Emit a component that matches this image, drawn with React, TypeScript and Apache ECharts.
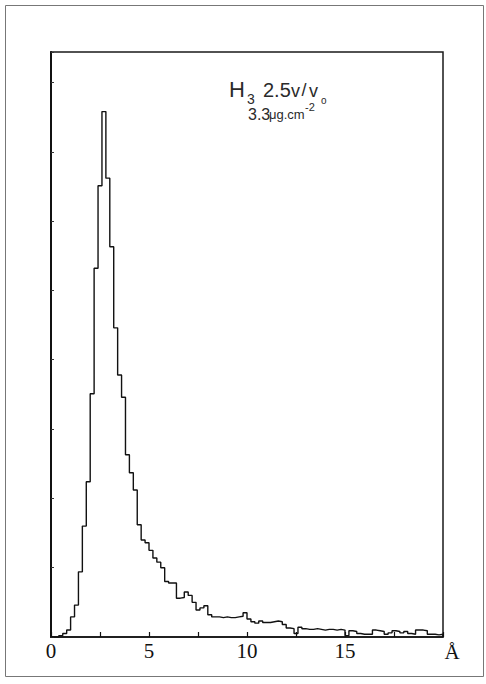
import React, { useEffect, useRef } from "react";
import * as echarts from "echarts";

// Histogram: bin width (Å) and counts per bin
const binWidth = 0.2;
const counts = [
  0, 0, 2, 5, 10, 29, 46, 94, 160, 224,
  351, 532, 651, 758, 662, 563, 446, 378, 346, 263,
  237, 212, 162, 140, 136, 125, 114, 108, 100, 80,
  78, 78, 56, 57, 65, 60, 50, 39, 42, 45,
  32, 29, 29, 28, 29, 28, 28, 29, 30, 35,
  26, 22, 20, 23, 21, 21, 22, 23, 22, 18,
  13, 12, 5, 14, 12, 11, 11, 12, 11, 10,
  11, 11, 10, 11, 10, 2, 9, 8, 5, 4,
  4, 4, 10, 9, 8, 4, 6, 9, 8, 6,
  8, 5, 4, 10, 10, 9, 4, 4, 3, 4,
];
const xLabels = [0, 5, 10, 15];
const xMin = 0;
const xMax = 20;
const xTickStep = 2.5;
const yMax = 844;
const yTickStep = 100;

export default function App() {
  const ref = useRef<HTMLDivElement>(null);
  useEffect(() => {
    if (!ref.current) return;
    const chart = echarts.init(ref.current, null, { renderer: "svg" });
    const data: number[][] = counts.map((c, i) => [+(i * binWidth).toFixed(2), c]);
    data.push([xMax, 0]);
    const sans = "Liberation Sans, Arial, sans-serif";
    const serif = "Liberation Serif, DejaVu Serif, serif";
    const txt = "#2a2a2a";
    const t = (text: string, x: number, y: number, size: number) => ({
      type: "text",
      x,
      y,
      silent: true,
      style: { text, fontSize: size, fontFamily: sans, fill: txt, verticalAlign: "middle" },
    });
    chart.setOption({
      animation: false,
      backgroundColor: "#ffffff",
      grid: {
        left: 51,
        top: 52,
        right: 43,
        bottom: 47,
        show: true,
        borderColor: "#1a1a1a",
        borderWidth: 1.5,
      },
      xAxis: {
        type: "value",
        min: xMin,
        max: xMax,
        interval: xTickStep,
        axisLine: { show: true, lineStyle: { color: "#111", width: 1.5 } },
        axisTick: { show: true, inside: true, length: 5, lineStyle: { color: "#111", width: 1.2 } },
        splitLine: { show: false },
        axisLabel: {
          margin: 3,
          color: "#111",
          fontFamily: serif,
          fontSize: 21,
          formatter: (v: number) => (xLabels.includes(v) ? String(v) : ""),
        },
      },
      yAxis: {
        type: "value",
        min: 0,
        max: yMax,
        interval: yTickStep,
        axisLine: { show: true, lineStyle: { color: "#111", width: 2 } },
        axisTick: { show: true, inside: true, length: 3, lineStyle: { color: "#333", width: 1 } },
        splitLine: { show: false },
        axisLabel: { show: false },
      },
      series: [
        {
          type: "line",
          step: "end",
          data,
          symbol: "none",
          lineStyle: { color: "#111", width: 1.4 },
        },
      ],
      graphic: [
        {
          type: "rect",
          shape: { x: 5.5, y: 5.5, width: 478, height: 671 },
          style: { fill: "none", stroke: "#777", lineWidth: 1 },
          silent: true,
        },
        t("H", 229, 89.5, 22),
        t("3", 247, 98.5, 14),
        t("2.5", 263, 90, 20),
        t("v", 291, 91, 18),
        t("/", 301.5, 90, 18),
        t("v", 309, 91, 18),
        t("o", 321, 100.5, 10),
        t("3.3", 248, 114, 16),
        t("μg.cm", 269, 114.5, 13),
        t("-2", 305, 106.5, 11),
        {
          type: "text",
          x: 452,
          y: 652,
          silent: true,
          style: {
            text: "Å",
            fontSize: 21,
            fontFamily: serif,
            fill: "#111",
            align: "center",
            verticalAlign: "middle",
          },
        },
      ],
    });
    return () => chart.dispose();
  }, []);
  return (
    <div
      ref={ref}
      style={{ position: "fixed", left: 0, top: 0, width: 486, height: 684, background: "#fff" }}
    />
  );
}
